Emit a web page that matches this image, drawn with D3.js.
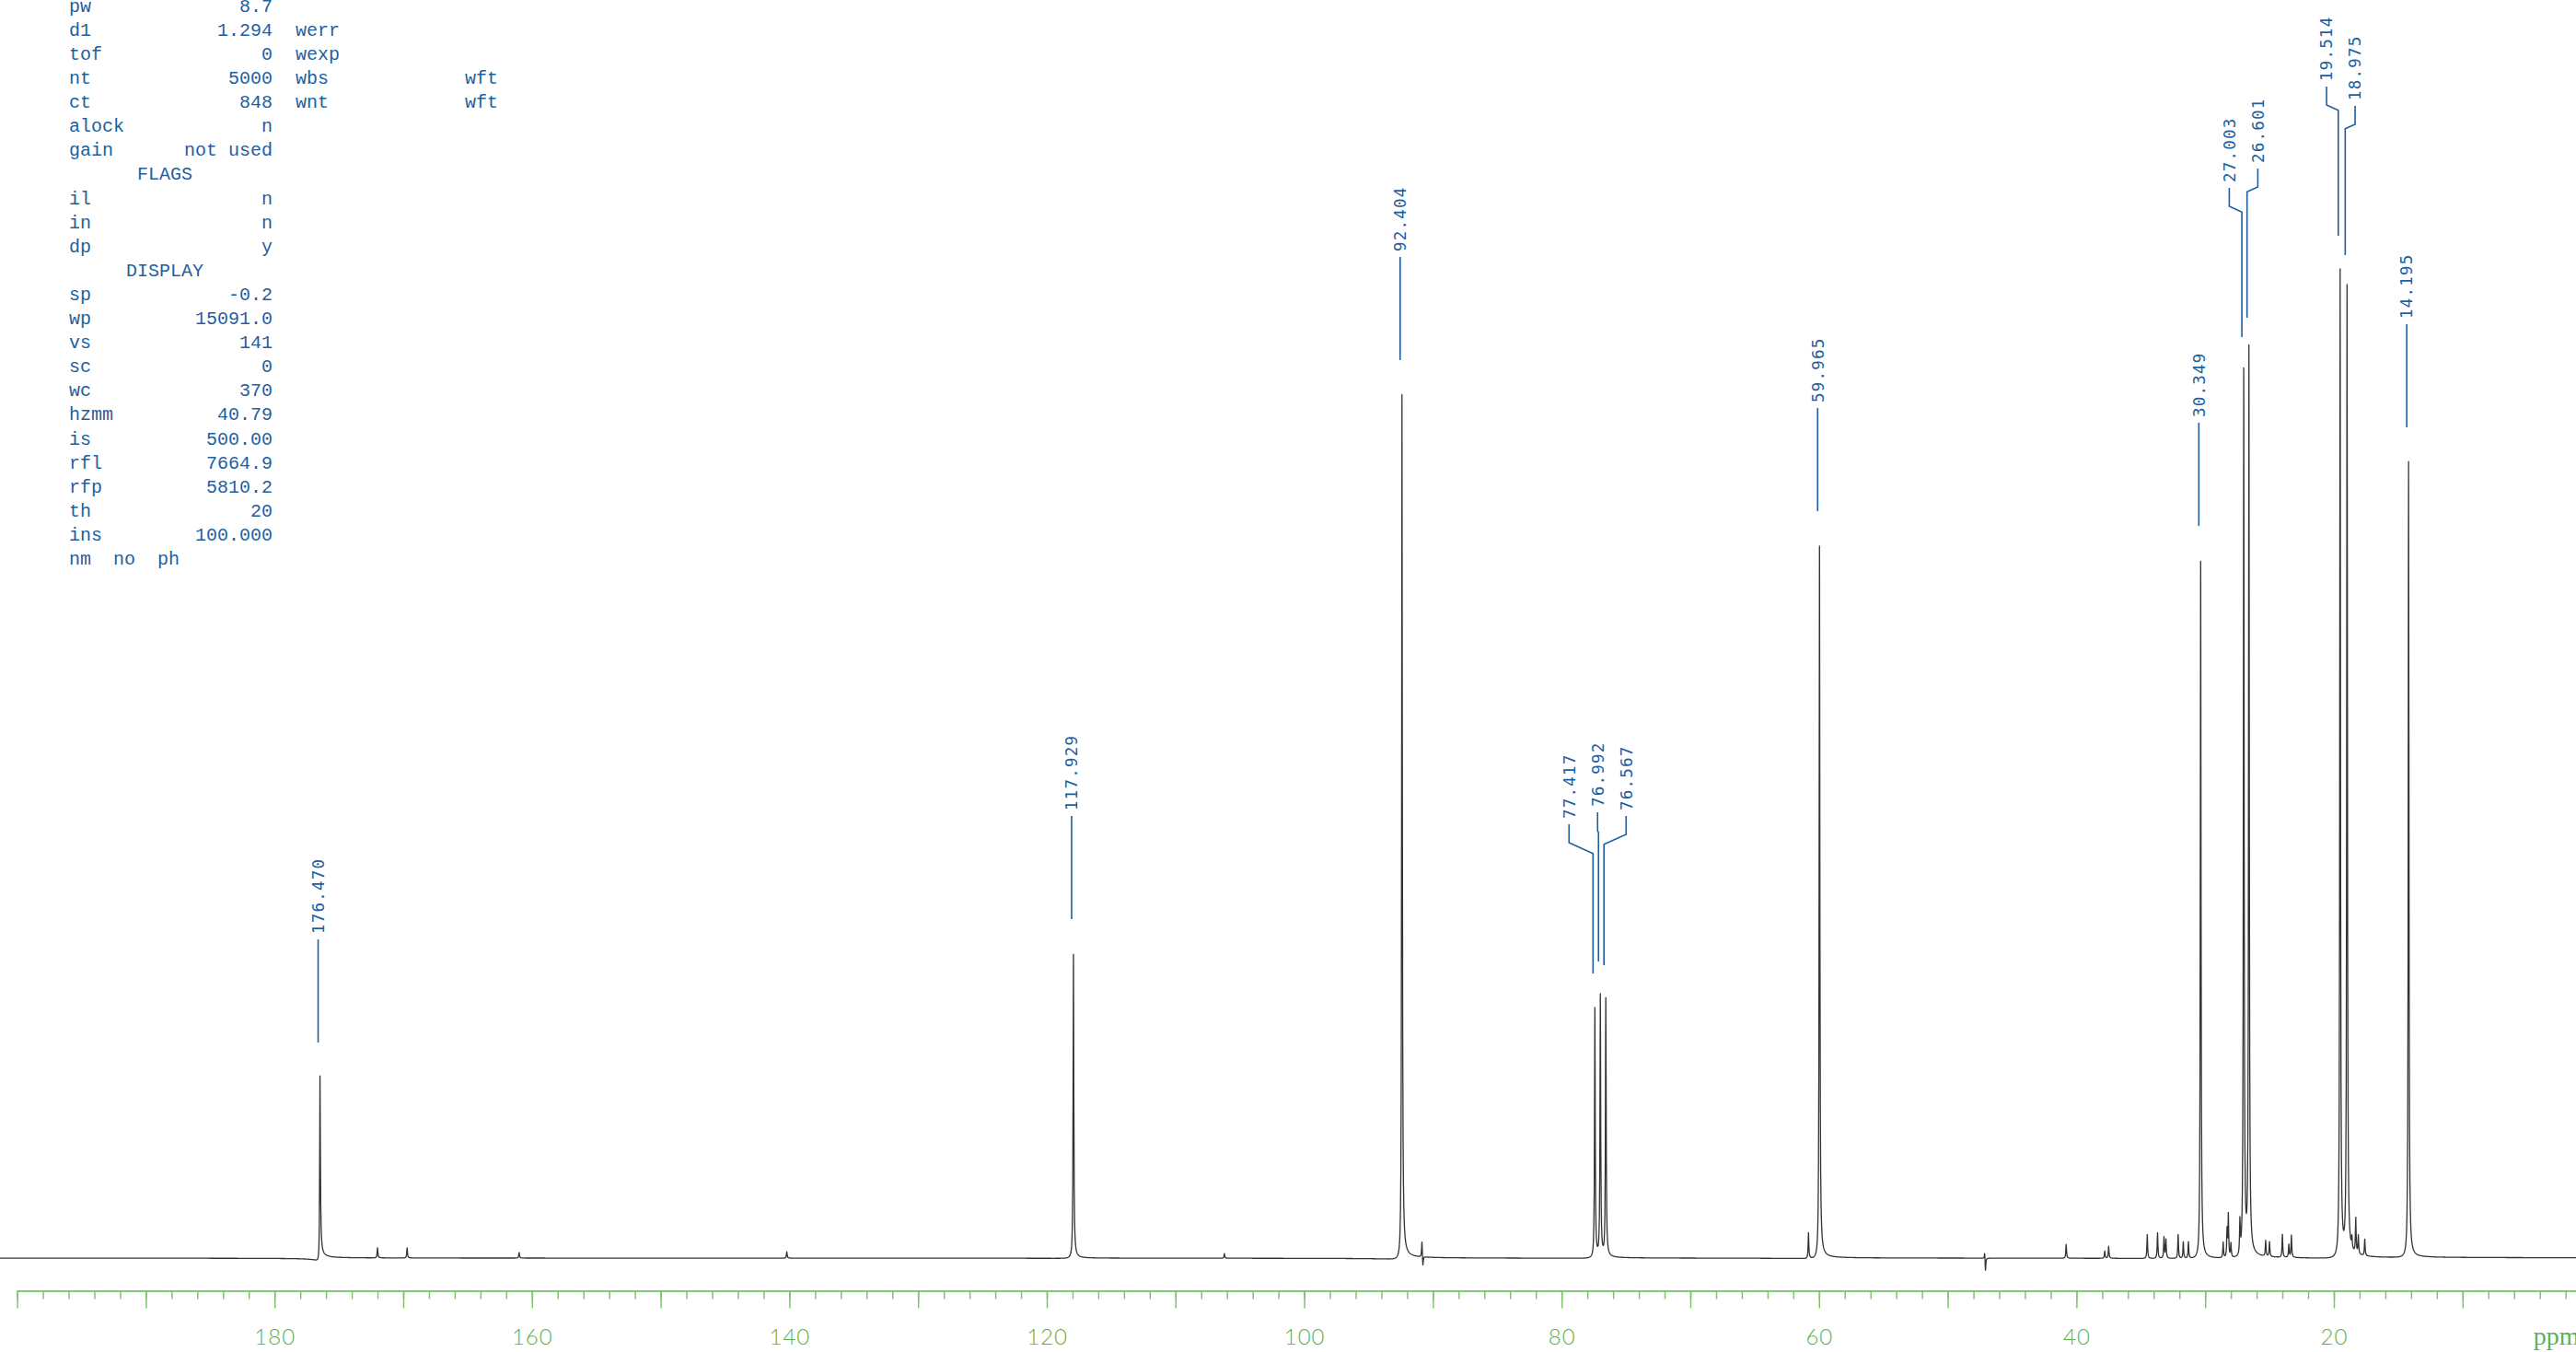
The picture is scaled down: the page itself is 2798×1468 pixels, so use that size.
<!DOCTYPE html>
<html>
<head>
<meta charset="utf-8">
<script src="https://cdn.jsdelivr.net/npm/d3@7"></script>
<style>
  html, body { margin: 0; padding: 0; background: #ffffff; }
  svg { display: block; }
</style>
</head>
<body>
<svg id="chart" width="2798" height="1468"></svg>
<script>
// ---------------- data ----------------
// labelled 13C signals (ppm) and their heights (intensity units)
const peakPpm     = [176.470, 117.929, 92.404, 77.417, 76.992, 76.567, 59.965, 30.349, 27.003, 26.601, 19.514, 18.975, 14.195];
const peakHeights = [196, 330, 937, 271, 284, 280, 773, 757, 962, 983, 1072, 1051, 864];
const peakLabels  = ["176.470", "117.929", "92.404", "77.417", "76.992", "76.567", "59.965", "30.349", "27.003", "26.601", "19.514", "18.975", "14.195"];
const peakPhase   = [0.20, 0.04, 0.06, 0.03, 0.03, 0.03, 0.05, 0.03, 0.03, 0.03, 0.03, 0.03, 0.03];

// small unlabelled signals / artefacts
const minorPpm     = [172.0, 169.7, 161.0, 140.2, 106.2, 90.85, 90.78, 60.82, 47.13, 47.07, 40.8, 37.8, 37.5,
                      34.5, 33.7, 33.2, 33.05, 32.1, 31.7, 31.3, 28.6, 28.3, 28.2, 28.0, 27.3,
                      25.3, 25.0, 24.0, 23.5, 23.3, 18.6, 18.3, 18.1, 17.6];
const minorHeights = [11, 11, 6, 7, 5, 18, -12, 28, 8, -15, 15, 8, 13,
                      26, 28, 23, 20, 26, 18, 18, 17, 30, 46, 15, 36,
                      17, 16, 25, 14, 24, 12, 38, 20, 18];

// axis
const axisDomain   = [200, 0];
const minorTickPpm = d3.range(200, 0, -2);
const majorTickPpm = d3.range(200, 0, -10);
const tickLabels   = [180, 160, 140, 120, 100, 80, 60, 40, 20];
const axisUnit     = "ppm";

// acquisition / display parameter block
const paramLabels = ["pw", "d1", "tof", "nt", "ct", "alock", "gain", "FLAGS", "il", "in", "dp", "DISPLAY",
                     "sp", "wp", "vs", "sc", "wc", "hzmm", "is", "rfl", "rfp", "th", "ins", "nm  no  ph"];
const paramValues = ["8.7", "1.294", "0", "5000", "848", "n", "not used", "", "n", "n", "y", "",
                     "-0.2", "15091.0", "141", "0", "370", "40.79", "500.00", "7664.9", "5810.2", "20", "100.000", ""];
const param2Labels = ["", "werr", "wexp", "wbs", "wnt"];
const param2Values = ["", "", "", "wft", "wft"];
const paramHeaders = ["FLAGS", "DISPLAY"];

// ---------------- drawing ----------------
const W = 2798, H = 1468;
const svg = d3.select("#chart");
svg.append("rect").attr("width", W).attr("height", H).attr("fill", "#ffffff");

const x = d3.scaleLinear().domain(axisDomain).range([18.6, 2814.6]);
const y = d3.scaleLinear().domain([0, 1000]).range([1366, 366]);

const BLUE = "#1f5f9f";
const GREEN_LINE = "#7cc46a";
const GREEN_TEXT = "#5fb04c";

// ---- spectrum trace (Lorentzian lines with small dispersive phase error) ----
const gamma = 0.032;
const lines = peakPpm.map((p, i) => ({ p, h: peakHeights[i], d: peakPhase[i] }))
  .concat(minorPpm.map((p, i) => ({ p, h: minorHeights[i], d: 0.03 })));
function intensity(ppm) {
  let s = 0;
  for (const l of lines) {
    const u = (l.p - ppm) / gamma;
    s += l.h * (1 + l.d * u) / (1 + u * u);
  }
  return s;
}
const samplePpm = d3.range(0, W + 0.5, 0.4).map(px => x.invert(px))
  .concat(lines.map(l => l.p))
  .sort((a, b) => b - a);
const trace = samplePpm.map(p => [p, intensity(p)]);
const lineGen = d3.line().x(d => x(d[0])).y(d => y(d[1]));
svg.append("path")
  .datum(trace)
  .attr("d", lineGen)
  .attr("fill", "none")
  .attr("stroke", "#333333")
  .attr("stroke-width", 1.3)
  .attr("stroke-linejoin", "round");

// ---- axis ----
const axisG = svg.append("g").attr("transform", "translate(0,1401.5)");
const minorAxis = d3.axisBottom(x).tickValues(minorTickPpm).tickSize(9).tickSizeOuter(0).tickFormat("");
const majorAxis = d3.axisBottom(x).tickValues(majorTickPpm).tickSize(19).tickSizeOuter(0).tickPadding(22)
  .tickFormat(d => tickLabels.includes(d) ? String(d) : "");
axisG.append("g").call(minorAxis);
axisG.append("g").call(majorAxis);
axisG.selectAll("path.domain").attr("stroke", GREEN_LINE).attr("stroke-width", 1.6);
axisG.selectAll(".tick line").attr("stroke", GREEN_LINE).attr("stroke-width", 1.5);
axisG.selectAll(".tick text")
  .attr("fill", GREEN_TEXT)
  .attr("font-family", "Lato, 'Liberation Sans', sans-serif")
  .attr("font-weight", 300)
  .attr("font-size", 24)
  .attr("letter-spacing", 1);
svg.append("text")
  .attr("x", x(4.5))
  .attr("y", 1460)
  .attr("fill", GREEN_TEXT)
  .attr("font-family", "'Liberation Serif', 'DejaVu Serif', serif")
  .attr("font-size", 28)
  .text(axisUnit);

// ---- peak labels with leaders ----
const peaks = peakPpm.map((p, i) => ({ p, h: peakHeights[i], label: peakLabels[i] }))
  .sort((a, b) => b.p - a.p);
const groups = [];
peaks.forEach(pk => {
  const g = groups[groups.length - 1];
  if (g && g[g.length - 1].p - pk.p < 1.0) g.push(pk); else groups.push([pk]);
});
const spacing = 31;
const labelG = svg.append("g");
groups.forEach(g => {
  const meanX = d3.mean(g, d => x(d.p)) - 3;
  g.forEach((pk, i) => {
    const px = x(pk.p) - 2;
    const top = y(pk.h);
    const grouped = g.length > 1;
    const lx = grouped ? meanX + (i - (g.length - 1) / 2) * spacing : px;
    const tb = grouped ? top - 206 : top - 156;
    let d;
    if (grouped) {
      const dx = Math.abs(px - lx);
      const b0 = tb + 26, b1 = b0 + Math.max(2, dx * 0.45);
      d = `M${lx},${tb + 6}V${b0}L${px},${b1}V${top - 38}`;
    } else {
      d = `M${px},${tb + 6}V${top - 38}`;
    }
    labelG.append("path").attr("d", d).attr("fill", "none")
      .attr("stroke", BLUE).attr("stroke-width", 1.6);
    labelG.append("text")
      .attr("transform", `translate(${lx},${tb}) rotate(-90)`)
      .attr("dy", "0.36em")
      .attr("text-anchor", "start")
      .attr("fill", BLUE)
      .attr("font-family", "'DejaVu Sans Mono', monospace")
      .attr("font-size", 17.5)
      .attr("letter-spacing", 1.2)
      .text(pk.label);
  });
});

// ---- parameter text block ----
const pg = svg.append("g")
  .attr("fill", BLUE)
  .attr("font-family", "'Courier New', 'Liberation Mono', monospace")
  .attr("font-size", 20);
const rowH = 26.1, base0 = 613 - (paramLabels.length - 1) * rowH;
paramLabels.forEach((lab, i) => {
  const by = base0 + i * rowH;
  if (paramHeaders.includes(lab)) {
    pg.append("text").attr("x", 179).attr("y", by).attr("text-anchor", "middle").text(lab);
  } else {
    pg.append("text").attr("x", 75).attr("y", by).style("white-space", "pre").text(lab);
    if (paramValues[i]) pg.append("text").attr("x", 296).attr("y", by).attr("text-anchor", "end")
      .style("white-space", "pre").text(paramValues[i]);
  }
  if (param2Labels[i]) pg.append("text").attr("x", 321).attr("y", by).text(param2Labels[i]);
  if (param2Values[i]) pg.append("text").attr("x", 505).attr("y", by).text(param2Values[i]);
});
</script>
</body>
</html>
